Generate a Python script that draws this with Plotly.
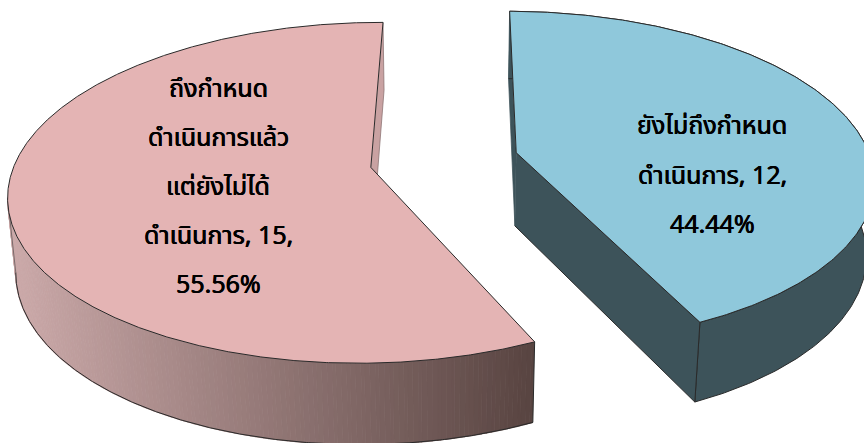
import numpy as np
import plotly.graph_objects as go

categories = ["ยังไม่ถึงกำหนด ดำเนินการ", "ถึงกำหนด ดำเนินการแล้ว แต่ยังไม่ได้ ดำเนินการ"]
values = [12, 15]
label_lines = [
    ["ยังไม่ถึงกำหนด", "ดำเนินการ, 12,", "44.44%"],
    ["ถึงกำหนด", "ดำเนินการแล้ว", "แต่ยังไม่ได้", "ดำเนินการ, 15,", "55.56%"],
]
label_x = [712, 218]
label_y0 = [124, 87]
label_step = [49.5, 49]

W, H = 864, 443
CX, HORIZON, YSCALE, D, F = 444.0, -950.0, 1110.0, 6.75, 355.0
EXPLODE = 0.2096
START = 0.5
ANGLE_VIEW = 0.965
HEIGHT = 73.5
VANISH = 4000.0
TOP_COL = ["#8FC8DB", "#E4B4B4"]
WALL_BLUE = "#3D535A"
CUT_PINK = "#C9A2A2"
EDGE = "#2A2A2A"
GRAD_L = np.array([0xCB, 0xA9, 0xA9])
GRAD_R = np.array([0x58, 0x44, 0x41])


def project(X, Y):
    w = 1.0 / (1.0 + np.asarray(Y) / D)
    return CX + F * np.asarray(X) * w, HORIZON + YSCALE * w, w


def drop(sx, sy, w):
    h = HEIGHT * w ** 0.6
    return sx + (CX - sx) * h / VANISH, sy + h


share = values[0] / sum(values)
a0 = START
a1 = START + 360 * share * ANGLE_VIEW
mid = np.radians((a0 + a1) / 2)
centres = [(EXPLODE * np.sin(mid), EXPLODE * np.cos(mid)),
           (-EXPLODE * np.sin(mid), -EXPLODE * np.cos(mid))]
sweeps = [(a0, a1), (a1, a0 + 360)]


def rim(c, t):
    r = np.radians(t)
    return project(c[0] + np.sin(r), c[1] + np.cos(r))


fig = go.Figure()


def poly(x, y, fill, line=None, width=1.0, closed=True):
    kw = dict(mode="lines", hoverinfo="skip", showlegend=False)
    if closed:
        fig.add_trace(go.Scatter(x=list(x), y=list(y), fill="toself", fillcolor=fill,
                                 line=dict(color=line or fill, width=width), **kw))
    else:
        fig.add_trace(go.Scatter(x=list(x), y=list(y), line=dict(color=line, width=width), **kw))


# ---------- pink slice ----------
c = centres[1]
ts = np.linspace(*sweeps[1], 841)
sx, sy, w = rim(c, ts)
bx, by = drop(sx, sy, w)
ax, ay, aw = project(c[0], c[1])
abx, aby = drop(ax, ay, aw)
# cut face at the back
poly([sx[-1], bx[-1], abx, ax], [sy[-1], by[-1], aby, ay], CUT_PINK, "#8A7070", 0.75)
# gradient wall: front part, up to the silhouette on the left
tan_top = int(np.argmin(sx))
tan_bot = int(np.argmin(bx))
end = max(tan_top, tan_bot)
nstrip = 160
idx = np.linspace(0, end, nstrip + 1).astype(int)
for k in range(nstrip):
    i, j = idx[k], idx[k + 1]
    mx = (sx[i] + sx[j]) / 2
    f = np.clip((mx - 15) / (535 - 15), 0, 1)
    col = GRAD_L + (GRAD_R - GRAD_L) * f
    colstr = "rgb(%d,%d,%d)" % tuple(col)
    poly(list(sx[i:j + 1]) + list(bx[i:j + 1][::-1]),
         list(sy[i:j + 1]) + list(by[i:j + 1][::-1]), colstr, colstr, 1.2)
poly(bx[:tan_bot + 1], by[:tan_bot + 1], None, EDGE, 1.0, closed=False)
poly([sx[tan_top], bx[tan_bot]], [sy[tan_top], by[tan_bot]], None, "#7A6A6A", 1.0, closed=False)
poly([sx[0], bx[0]], [sy[0], by[0]], None, EDGE, 1.0, closed=False)
# top
poly([ax] + list(sx) + [ax], [ay] + list(sy) + [ay], TOP_COL[1], EDGE, 1.0)

# ---------- blue slice ----------
c = centres[0]
ts = np.linspace(*sweeps[0], 241)
sx, sy, w = rim(c, ts)
bx, by = drop(sx, sy, w)
ax, ay, aw = project(c[0], c[1])
abx, aby = drop(ax, ay, aw)
# back cut sliver
poly([sx[0], drop(sx[0], sy[0], w[0])[0], abx, ax],
     [sy[0], drop(sx[0], sy[0], w[0])[1], aby, ay], WALL_BLUE, WALL_BLUE, 0.75)
# outer wall
poly(list(sx) + list(bx[::-1]), list(sy) + list(by[::-1]), WALL_BLUE, EDGE, 1.0)
# front cut face
poly([ax, sx[-1], bx[-1], abx], [ay, sy[-1], by[-1], aby], WALL_BLUE, EDGE, 1.0)
# top
poly([ax] + list(sx) + [ax], [ay] + list(sy) + [ay], TOP_COL[0], EDGE, 1.0)

annotations = []
for lines, x0, y0, st in zip(label_lines, label_x, label_y0, label_step):
    for n, line in enumerate(lines):
        annotations.append(dict(x=x0, y=y0 + n * st, text=line, showarrow=False,
                                xref="x", yref="y", xanchor="center", yanchor="middle",
                                font=dict(family="Noto Sans, Noto Sans Thai, sans-serif", size=25, color="#000000",
                                          shadow="0.35px 0 0 #000, -0.35px 0 0 #000")))

fig.update_layout(
    width=W, height=H, margin=dict(l=0, r=0, t=0, b=0),
    paper_bgcolor="white", plot_bgcolor="white", showlegend=False,
    xaxis=dict(range=[0, W], visible=False, fixedrange=True),
    yaxis=dict(range=[H, 0], visible=False, fixedrange=True),
    annotations=annotations,
)
fig.write_html("out.html", config=dict(displayModeBar=False),
               post_script="document.body.style.margin='0';document.body.style.overflow='hidden';")
